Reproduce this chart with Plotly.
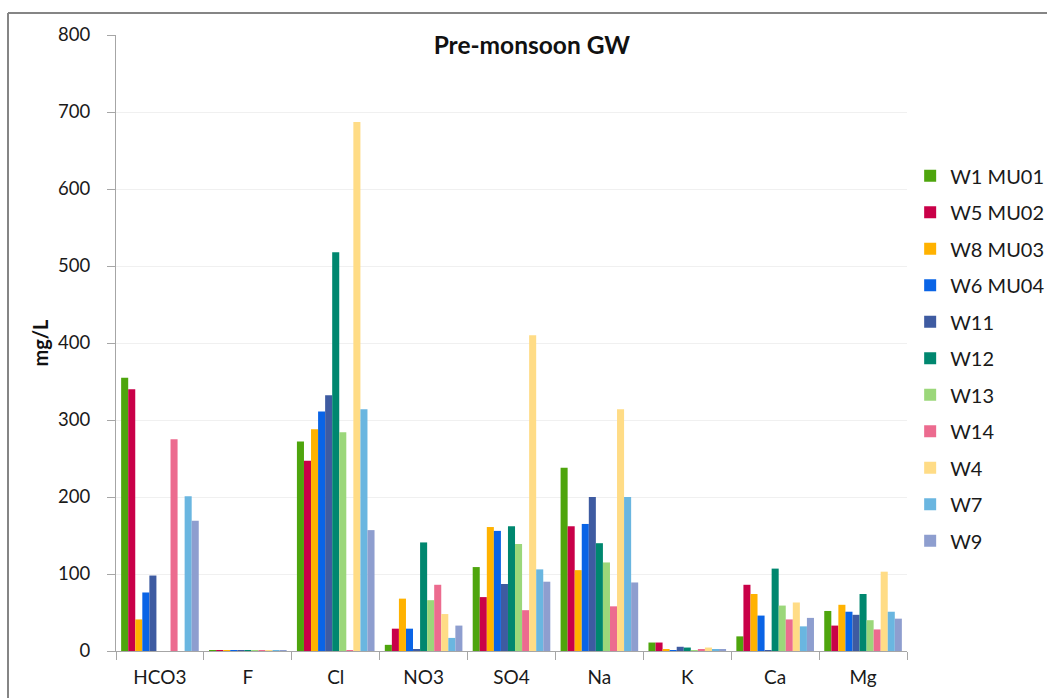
import plotly.graph_objects as go

# Major ions measured in pre-monsoon groundwater samples (mg/L)
ions = ["HCO3", "F", "Cl", "NO3", "SO4", "Na", "K", "Ca", "Mg"]

wells = ["W1 MU01", "W5 MU02", "W8 MU03", "W6 MU04", "W11", "W12",
         "W13", "W14", "W4", "W7", "W9"]

w1_mu01 = [355, 1.0, 272, 8, 109, 238, 11, 19, 52]
w5_mu02 = [340, 1.0, 247, 29, 70, 162, 11, 86, 33]
w8_mu03 = [41, 1.0, 288, 68, 161, 105, 2, 74, 60]
w6_mu04 = [76, 1.0, 311, 29, 156, 165, 1, 46, 51]
w11 = [98, 1.0, 332, 1.5, 87, 200, 5.5, 1, 47]
w12 = [0, 1.0, 518, 141, 162, 140, 4.5, 107, 74]
w13 = [0, 1.0, 284, 66, 139, 115, 1.3, 59, 40]
w14 = [275, 1.0, 1, 86, 53, 58, 1.7, 41, 28]
w4 = [0, 1.0, 687, 48, 410, 314, 4.5, 63, 103]
w7 = [201, 1.0, 314, 17, 106, 200, 1.7, 32, 51]
w9 = [169, 1.0, 157, 33, 90, 89, 1.7, 43, 42]

series = [w1_mu01, w5_mu02, w8_mu03, w6_mu04, w11, w12, w13, w14, w4, w7, w9]

colors = ["#4ea50d", "#c90048", "#ffb200", "#0a64e6", "#3e5ba1", "#00876f",
          "#9bd77a", "#ec6b8f", "#ffdc86", "#6ab6e0", "#8e9ecf"]

FONT = "Lato, 'Open Sans', sans-serif"

fig = go.Figure()
for i, (name, vals, col) in enumerate(zip(wells, series, colors)):
    fig.add_trace(go.Bar(
        x=ions, y=vals, name=name, marker_color=col,
        marker_line_width=0, legendgroup=f"g{i}",
    ))

fig.update_layout(
    width=1047, height=698,
    margin=dict(l=116, r=140, t=35, b=47, autoexpand=False),
    paper_bgcolor="white", plot_bgcolor="white",
    barmode="group", bargap=0.117, bargroupgap=0,
    font=dict(family=FONT, size=18, color="#1a1a1a"),
    title=dict(text="<b>Pre-monsoon GW</b>", x=0.508, xanchor="center",
               y=1 - 45 / 698, yanchor="middle",
               font=dict(family=FONT, size=24.5, color="#111")),
    legend=dict(x=1.004, xanchor="left", y=0.803, yanchor="top",
                traceorder="grouped", tracegroupgap=7.5,
                font=dict(family=FONT, size=20, color="#1a1a1a"),
                bgcolor="rgba(0,0,0,0)"),
    xaxis=dict(
        showline=True, linecolor="#a6a6a6", linewidth=1.2,
        ticks="outside", ticklen=8, tickcolor="#a6a6a6", tickwidth=1.2,
        tickson="boundaries", showgrid=False, ticklabelstandoff=9,
        tickfont=dict(family=FONT, size=19, color="#1a1a1a"),
    ),
    yaxis=dict(
        range=[0, 800], dtick=100, showline=True, linecolor="#a6a6a6",
        linewidth=1.2, ticks="outside", ticklen=8, tickcolor="#a6a6a6",
        tickwidth=1.2, showgrid=True, gridcolor="#f0f0f0", gridwidth=1,
        zeroline=False, ticklabelstandoff=13,
        tickfont=dict(family=FONT, size=18.5, color="#1a1a1a"),
        title=dict(text="<b>mg/L</b>", standoff=3,
                   font=dict(family=FONT, size=20, color="#111")),
    ),
)

# Outer frame around the chart (left and top edges visible)
fig.add_shape(type="line", xref="paper", yref="paper",
              x0=(8 - 116) / 791, x1=1.2, y0=(651 - 13) / 616, y1=(651 - 13) / 616,
              line=dict(color="#858585", width=2))
fig.add_shape(type="line", xref="paper", yref="paper",
              x0=(8 - 116) / 791, x1=(8 - 116) / 791, y0=(651 - 13) / 616, y1=-0.2,
              line=dict(color="#858585", width=2))

fig.write_html("out.html")
